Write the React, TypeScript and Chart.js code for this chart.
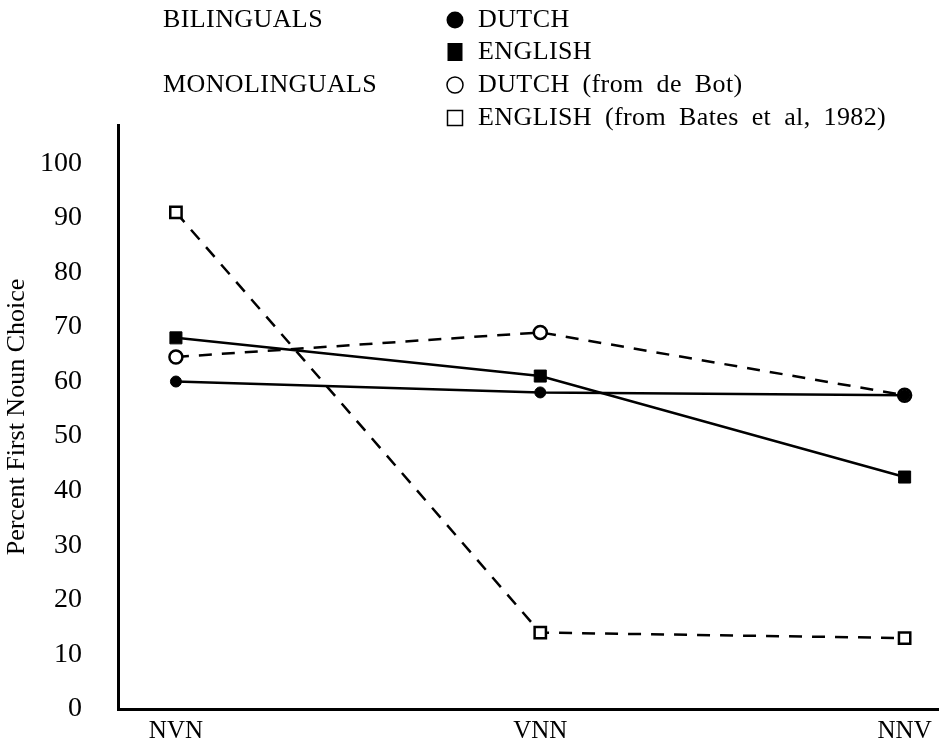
import React, { useEffect, useRef } from "react";
import { Chart, registerables } from "chart.js";

Chart.register(...registerables);

const categories = ["NVN", "VNN", "NNV"];
const bilingualDutch = [60, 58, 57.5];
const bilingualEnglish = [68, 61, 42.5];
const monolingualDutch = [64.5, 69, 57.5];
const monolingualEnglish = [91, 14, 13];
const yTicks = [0, 10, 20, 30, 40, 50, 60, 70, 80, 90, 100];
const legendGroups = ["BILINGUALS", "MONOLINGUALS"];
const legendLabels = [
  "DUTCH",
  "ENGLISH",
  "DUTCH (from de Bot)",
  "ENGLISH (from Bates et al, 1982)",
];

const FONT = "'Liberation Serif', 'DejaVu Serif', serif";

const toPoints = (vals: number[]) => vals.map((v, i) => ({ x: i, y: v }));

const legendPlugin = {
  id: "customLegend",
  afterDraw(chart: any) {
    const ctx = chart.ctx as any;
    ctx.save();
    ctx.fillStyle = "#000";
    ctx.strokeStyle = "#000";
    ctx.font = `26px ${FONT}`;
    ctx.textBaseline = "middle";
    ctx.textAlign = "left";
    try {
      ctx.letterSpacing = "0.4px";
      ctx.wordSpacing = "6px";
    } catch (e) {}
    const rows = [20, 52, 85, 118];
    const gx = 163;
    ctx.fillText(legendGroups[0], gx, rows[0]);
    ctx.fillText(legendGroups[1], gx, rows[2]);
    const mx = 455;
    const tx = 478;
    ctx.beginPath();
    ctx.arc(mx, rows[0], 8.5, 0, Math.PI * 2);
    ctx.fill();
    ctx.fillRect(mx - 7.5, rows[1] - 9, 15, 18);
    ctx.lineWidth = 1.5;
    ctx.beginPath();
    ctx.arc(mx, rows[2], 8, 0, Math.PI * 2);
    ctx.stroke();
    ctx.strokeRect(mx - 7.5, rows[3] - 7.5, 15, 15);
    legendLabels.forEach((t, i) => ctx.fillText(t, tx, rows[i]));
    ctx.restore();
  },
};

export default function App() {
  const ref = useRef<HTMLCanvasElement | null>(null);
  useEffect(() => {
    if (!ref.current) return;
    const chart = new Chart(ref.current, {
      type: "line",
      data: {
        datasets: [
          {
            label: legendLabels[0],
            data: toPoints(bilingualDutch),
            borderColor: "#000",
            backgroundColor: "#000",
            borderWidth: 2.5,
            pointStyle: "circle",
            pointRadius: 5.5,
            pointBackgroundColor: "#000",
            pointBorderColor: "#000",
            pointBorderWidth: 1,
          },
          {
            label: legendLabels[1],
            data: toPoints(bilingualEnglish),
            borderColor: "#000",
            backgroundColor: "#000",
            borderWidth: 2.5,
            pointStyle: "rect",
            pointRadius: 8.5,
            pointBackgroundColor: "#000",
            pointBorderColor: "#000",
            pointBorderWidth: 1,
          },
          {
            label: legendLabels[2],
            data: toPoints(monolingualDutch),
            borderColor: "#000",
            backgroundColor: "#fff",
            borderWidth: 2.5,
            borderDash: [13, 10],
            pointStyle: "circle",
            pointRadius: 6.5,
            pointBackgroundColor: "#fff",
            pointBorderColor: "#000",
            pointBorderWidth: 2.5,
          },
          {
            label: legendLabels[3],
            data: toPoints(monolingualEnglish),
            borderColor: "#000",
            backgroundColor: "#fff",
            borderWidth: 2.5,
            borderDash: [13, 10],
            pointStyle: "rect",
            pointRadius: 8,
            pointBackgroundColor: "#fff",
            pointBorderColor: "#000",
            pointBorderWidth: 2.5,
          },
        ],
      },
      options: {
        responsive: false,
        maintainAspectRatio: false,
        animation: false,
        layout: { padding: { top: 125, right: 9, left: 0, bottom: 0 } },
        plugins: {
          legend: { display: false },
          tooltip: { enabled: false },
        },
        scales: {
          x: {
            type: "linear",
            min: -0.159,
            max: 2.093,
            grid: { display: false, drawTicks: false },
            border: { display: true, color: "#000", width: 3 },
            afterBuildTicks: (scale: any) => {
              scale.ticks = categories.map((_, i) => ({ value: i }));
            },
            afterFit: (scale: any) => {
              scale.height = 37;
              scale.paddingLeft = 0;
              scale.paddingRight = 0;
            },
            ticks: {
              color: "#000",
              padding: 7,
              maxRotation: 0,
              autoSkip: false,
              font: { family: FONT, size: 25 },
              callback: (v: any) => categories[Math.round(Number(v))] ?? "",
            },
          },
          y: {
            min: 0,
            max: 107,
            grid: { display: false, drawTicks: false },
            border: { display: true, color: "#000", width: 3 },
            afterBuildTicks: (scale: any) => {
              scale.ticks = yTicks.map((v) => ({ value: v }));
            },
            afterFit: (scale: any) => {
              scale.width = 118;
              scale.paddingTop = 0;
              scale.paddingBottom = 0;
            },
            ticks: {
              color: "#000",
              padding: 36,
              font: { family: FONT, size: 28 },
            },
            title: {
              display: true,
              text: "Percent First Noun Choice",
              color: "#000",
              font: { family: FONT, size: 26 },
              padding: { top: 2, bottom: 0 },
            },
          },
        },
      },
      plugins: [legendPlugin],
    });
    return () => chart.destroy();
  }, []);
  return (
    <div style={{ position: "absolute", left: 0, top: 0, width: 949, height: 746 }}>
      <canvas ref={ref} width={949} height={746} style={{ display: "block" }} />
    </div>
  );
}
